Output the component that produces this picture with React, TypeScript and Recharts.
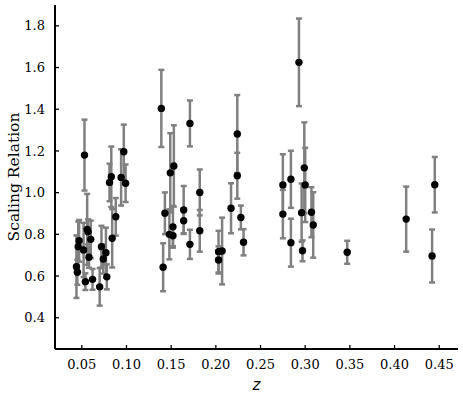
import React from 'react';
import { ErrorBar, Scatter, ScatterChart, XAxis, YAxis } from 'recharts';

// redshift of each object
const redshift = [
  0.044, 0.045, 0.047, 0.046, 0.052, 0.054, 0.053, 0.056, 0.057, 0.060, 0.058, 0.062,
  0.070, 0.072, 0.074, 0.077, 0.078, 0.081, 0.083, 0.084, 0.088, 0.097, 0.094, 0.099,
  0.139, 0.171, 0.153, 0.149, 0.143, 0.152, 0.148, 0.152, 0.141, 0.164, 0.164, 0.171,
  0.182, 0.182, 0.203, 0.207, 0.203, 0.217, 0.224, 0.224, 0.228, 0.231,
  0.293, 0.275, 0.275, 0.284, 0.284, 0.299, 0.297, 0.300, 0.296, 0.307, 0.309, 0.347,
  0.413, 0.445, 0.442,
];

// scaling relation value
const scaling = [
  0.645, 0.618, 0.769, 0.741, 0.725, 0.573, 1.180, 0.824, 0.812, 0.776, 0.690, 0.584,
  0.548, 0.741, 0.682, 0.712, 0.596, 1.049, 1.076, 0.781, 0.884, 1.196, 1.073, 1.045,
  1.404, 1.332, 1.128, 1.095, 0.901, 0.836, 0.800, 0.793, 0.642, 0.917, 0.865, 0.752,
  1.001, 0.817, 0.717, 0.720, 0.677, 0.925, 1.281, 1.081, 0.881, 0.762,
  1.625, 1.037, 0.897, 1.064, 0.760, 1.119, 0.721, 1.037, 0.904, 0.906, 0.845, 0.714,
  0.873, 1.038, 0.696,
];

// symmetric 1-sigma errors
const scalingErr = [
  0.15, 0.06, 0.10, 0.12, 0.13, 0.04, 0.17, 0.17, 0.06, 0.09, 0.05, 0.05,
  0.09, 0.10, 0.07, 0.12, 0.06, 0.09, 0.145, 0.14, 0.09, 0.13, 0.135, 0.09,
  0.185, 0.11, 0.195, 0.19, 0.10, 0.10, 0.12, 0.05, 0.115, 0.115, 0.06, 0.07,
  0.11, 0.10, 0.10, 0.16, 0.065, 0.12, 0.187, 0.11, 0.057, 0.063,
  0.21, 0.147, 0.116, 0.137, 0.115, 0.218, 0.05, 0.178, 0.14, 0.12, 0.157, 0.055,
  0.156, 0.133, 0.127,
];

const xTicks = [0.05, 0.1, 0.15, 0.2, 0.25, 0.3, 0.35, 0.4, 0.45];
const yTicks = [0.4, 0.6, 0.8, 1.0, 1.2, 1.4, 1.6, 1.8];

const data = redshift.map((z, i) => ({ z, s: scaling[i], err: scalingErr[i] }));

const serif = '"DejaVu Serif", serif';
const tickStyle = { fontFamily: serif, fontSize: 13, fill: '#000' };

const Dot = (props: any) => <circle cx={props.cx} cy={props.cy} r={3.7} fill="#000" />;

export default function App() {
  return (
    <div style={{ position: 'absolute', left: 0, top: 0, width: 463, height: 397, background: '#fff' }}>
      <ScatterChart width={463} height={397} margin={{ top: 5, right: 5, left: 0, bottom: 0 }}>
        <XAxis
          type="number"
          dataKey="z"
          domain={[0.02, 0.471]}
          ticks={xTicks}
          tickFormatter={(v: number) => v.toFixed(2)}
          tick={tickStyle}
          tickSize={-4}
          tickMargin={15}
          tickLine={{ stroke: '#000', strokeWidth: 1.3 }}
          axisLine={{ stroke: '#000', strokeWidth: 2 }}
          height={48}
          allowDataOverflow
          label={{ value: 'z', position: 'insideBottom', offset: 7, style: { fontFamily: '"DejaVu Sans", sans-serif', fontStyle: 'italic', fontSize: 15, fill: '#000' } }}
        />
        <XAxis xAxisId="top" orientation="top" type="number" domain={[0, 1]} height={0} tick={false} tickLine={false} axisLine={{ stroke: '#000', strokeWidth: 2 }} />
        <YAxis
          type="number"
          dataKey="s"
          domain={[0.25, 1.9]}
          ticks={yTicks}
          tickFormatter={(v: number) => v.toFixed(1)}
          tick={tickStyle}
          tickSize={-4}
          tickMargin={14}
          tickLine={{ stroke: '#000', strokeWidth: 1.3 }}
          axisLine={{ stroke: '#000', strokeWidth: 2 }}
          width={55}
          allowDataOverflow
          label={{ value: 'Scaling Relation', angle: -90, position: 'insideLeft', offset: 13, style: { textAnchor: 'middle', fontFamily: serif, fontSize: 15.5, fill: '#000' } }}
        />
        <YAxis yAxisId="right" orientation="right" type="number" domain={[0, 1]} width={0} tick={false} tickLine={false} axisLine={{ stroke: '#000', strokeWidth: 2 }} />
        <Scatter data={data} shape={Dot} isAnimationActive={false}>
          <ErrorBar dataKey="err" direction="y" width={3} stroke="#808080" strokeWidth={2.5} isAnimationActive={false} />
        </Scatter>
      </ScatterChart>
    </div>
  );
}
